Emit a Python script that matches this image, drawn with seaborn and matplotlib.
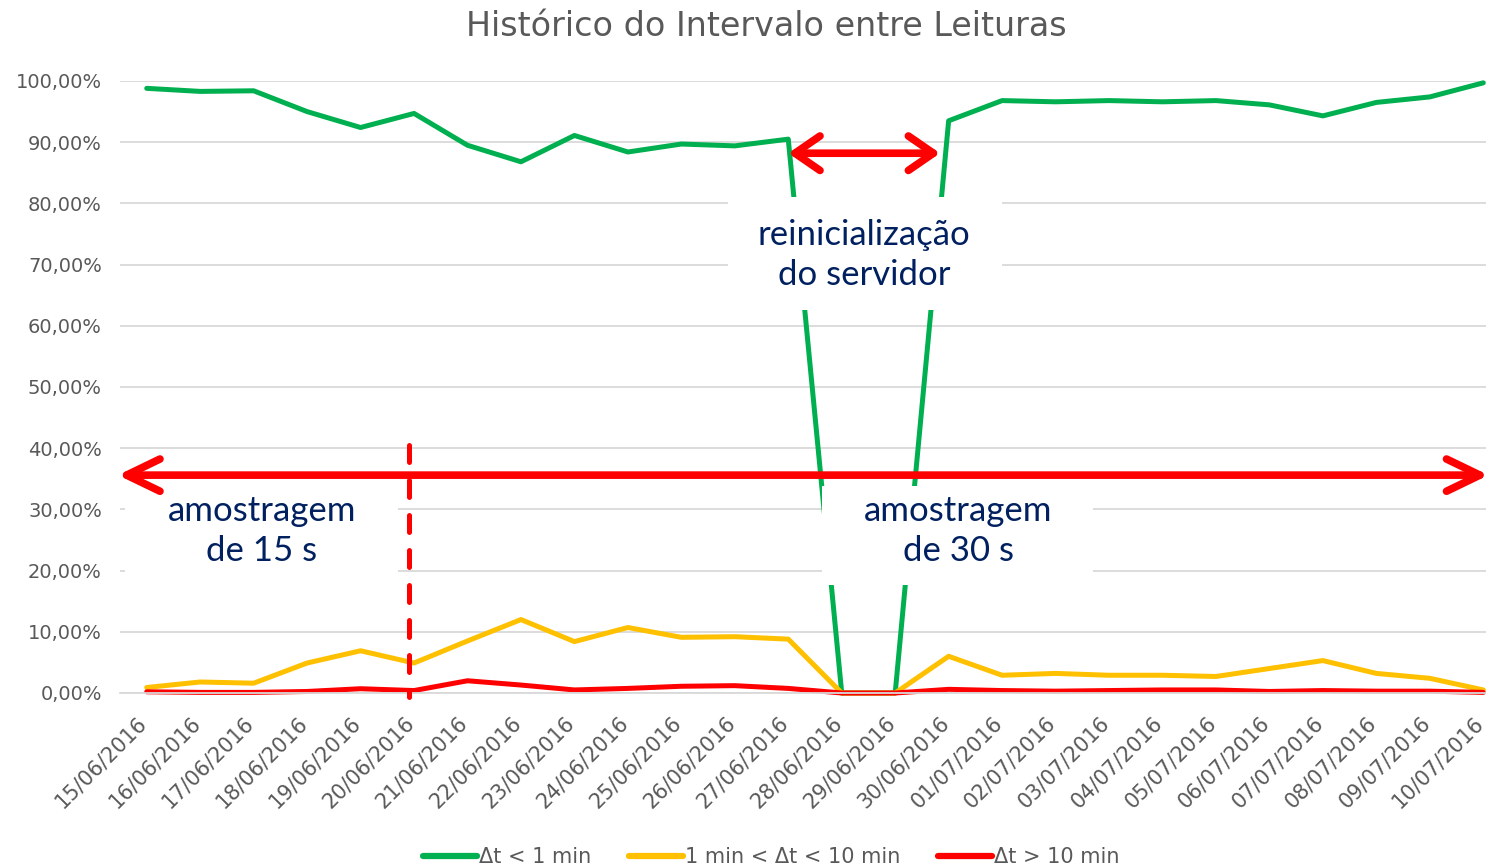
import numpy as np
import pandas as pd
import seaborn as sns
import matplotlib.pyplot as plt
import matplotlib.transforms as mtransforms
from matplotlib.patches import Rectangle

# dados
datas = ['15/06/2016', '16/06/2016', '17/06/2016', '18/06/2016', '19/06/2016',
         '20/06/2016', '21/06/2016', '22/06/2016', '23/06/2016', '24/06/2016',
         '25/06/2016', '26/06/2016', '27/06/2016', '28/06/2016', '29/06/2016',
         '30/06/2016', '01/07/2016', '02/07/2016', '03/07/2016', '04/07/2016',
         '05/07/2016', '06/07/2016', '07/07/2016', '08/07/2016', '09/07/2016',
         '10/07/2016']
menor_1min = [98.8, 98.3, 98.4, 95.0, 92.4, 94.7, 89.5, 86.8, 91.1, 88.4,
              89.7, 89.4, 90.5, 0.0, 0.0, 93.5, 96.8, 96.6, 96.8, 96.6,
              96.8, 96.1, 94.3, 96.5, 97.4, 99.7]
entre_1_10 = [0.9, 1.8, 1.6, 4.9, 6.9, 4.9, 8.5, 12.0, 8.4, 10.7,
              9.1, 9.2, 8.8, 0.0, 0.0, 6.0, 2.9, 3.2, 2.9, 2.9,
              2.7, 4.0, 5.3, 3.2, 2.4, 0.5]
maior_10 = [0.2, 0.1, 0.1, 0.25, 0.7, 0.4, 2.0, 1.3, 0.5, 0.75,
            1.1, 1.2, 0.75, 0.0, 0.0, 0.6, 0.4, 0.3, 0.4, 0.5,
            0.5, 0.25, 0.4, 0.3, 0.3, 0.1]

series = ['Δt < 1 min', '1 min < Δt < 10 min', 'Δt > 10 min']
cores = ['#00B050', '#FFC000', '#FF0000']

df = pd.DataFrame({'dia': range(len(datas)),
                   series[0]: menor_1min,
                   series[1]: entre_1_10,
                   series[2]: maior_10})
df_long = df.melt(id_vars='dia', var_name='serie', value_name='pct')

sns.set_style('white')
plt.rcParams['font.family'] = ['DejaVu Sans']

cinza = '#595959'
azul = '#002060'
fonte_caixa = ['Lato', 'DejaVu Sans']

fig = plt.figure(figsize=(14.86, 8.68), dpi=100)
# area do grafico passa da borda direita (imagem cortada)
ax = fig.add_axes([120 / 1486, 1 - 693 / 868, 1390 / 1486, 612 / 868])

sns.lineplot(data=df_long, x='dia', y='pct', hue='serie', hue_order=series,
             palette=cores, linewidth=3.6, ax=ax)
for ln in ax.lines:
    ln.set_solid_joinstyle('round')
    ln.set_solid_capstyle('round')
    ln.set_clip_on(False)

ax.set_xlim(-0.5, 25.5)
ax.set_ylim(0, 100)
ax.set_xlabel('')
ax.set_ylabel('')

ax.set_yticks(np.arange(0, 101, 10))
ax.set_yticklabels([f'{v:.2f}%'.replace('.', ',') for v in np.arange(0, 101, 10)],
                   fontsize=14, color=cinza)
ax.tick_params(axis='y', length=0, pad=13)
ax.yaxis.grid(True, color='#D9D9D9', linewidth=1.3)
ax.set_axisbelow(True)

ax.set_xticks(range(len(datas)))
ax.set_xticklabels(datas, rotation=45, ha='right', rotation_mode='anchor',
                   fontsize=15, color=cinza)
ax.set_xticks(np.arange(-0.5, len(datas), 1), minor=True)
ax.tick_params(axis='x', which='major', length=0, pad=12)
ax.tick_params(axis='x', which='minor', length=6, width=1.3, color='#D9D9D9')
# leve deslocamento dos rotulos para a esquerda (depois do tick_params)
desloca = mtransforms.ScaledTranslation(-10 / 100, -3 / 100, fig.dpi_scale_trans)
for tk in ax.xaxis.get_major_ticks():
    tk.label1.set_transform(tk.label1.get_transform() + desloca)

for s in ['top', 'right', 'left']:
    ax.spines[s].set_visible(False)
ax.spines['bottom'].set_color('#D9D9D9')
ax.spines['bottom'].set_linewidth(1.3)

# caixas brancas das anotacoes
caixas = [(10.87, 62.6, 5.13, 18.4), (-0.41, 17.6, 5.11, 15.6), (12.63, 17.6, 5.07, 16.3)]
for x0, y0, w, h in caixas:
    ax.add_patch(Rectangle((x0, y0), w, h, facecolor='white', edgecolor='none',
                           zorder=3))

estilo_txt = dict(ha='center', va='center', fontsize=25, color=azul,
                  family=fonte_caixa, linespacing=1.3, zorder=4)
ax.text(13.42, 71.6, 'reinicialização\ndo servidor', **estilo_txt)
ax.text(2.15, 26.5, 'amostragem\nde 15 s', **estilo_txt)
ax.text(15.18, 26.5, 'amostragem\nde 30 s', **estilo_txt)

# setas
seta = dict(arrowstyle='<->,head_length=1.2,head_width=0.58', color='#FF0000',
            lw=5.5, mutation_scale=20, shrinkA=0, shrinkB=0,
            capstyle='round', joinstyle='round')
ax.annotate('', xy=(25.1, 35.6), xytext=(-0.54, 35.6), arrowprops=seta,
            annotation_clip=False, zorder=5)
seta2 = dict(seta, arrowstyle='<->,head_length=0.9,head_width=0.62')
ax.annotate('', xy=(14.84, 88.2), xytext=(12.0, 88.2), arrowprops=seta2,
            annotation_clip=False, zorder=5)

ax.plot([4.9, 4.9], [40.5, -0.6], color='#FF0000', lw=3.6,
        linestyle=(0, (3.4, 3.6)), dash_capstyle='round', clip_on=False, zorder=5)

fig.text(766 / 1486, 1 - 27 / 868, 'Histórico do Intervalo entre Leituras',
         ha='center', va='center', fontsize=24, color=cinza)

handles, labels = ax.get_legend_handles_labels()
ax.get_legend().remove()
leg = fig.legend(handles, labels, loc='center', bbox_to_anchor=(771 / 1486, 1 - 857 / 868),
                 ncol=3, frameon=False, handlelength=2.6, handletextpad=0.1,
                 columnspacing=1.8, prop={'size': 15})
for t in leg.get_texts():
    t.set_color(cinza)
for h in leg.legend_handles:
    h.set_linewidth(4.5)
    h.set_solid_capstyle('round')

fig.savefig('out.png', dpi=100)
